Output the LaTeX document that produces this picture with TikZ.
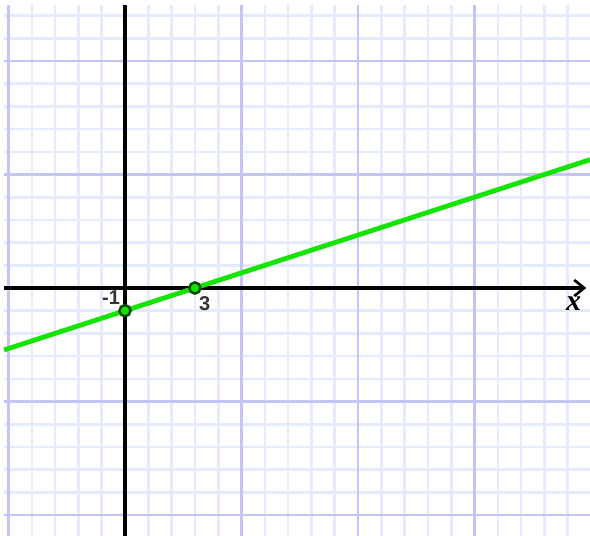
\documentclass[tikz,border=0pt]{standalone}
\usepackage{fontspec}
\setmainfont{Liberation Serif}
\setsansfont{Liberation Sans}
\usetikzlibrary{arrows.meta}
\definecolor{minorgrid}{RGB}{230,234,255}
\definecolor{majorgrid}{RGB}{196,196,245}
\definecolor{linegreen}{RGB}{20,228,0}
\definecolor{ptgreen}{RGB}{0,70,0}
\tikzset{
  minorline/.style={draw=minorgrid, line width=1.3pt},
  majorline/.style={draw=majorgrid, line width=1.4pt},
  axisline/.style={draw=black, line width=1.6pt},
  graphline/.style={draw=linegreen, line width=2.4pt},
  ptnode/.style={circle, draw=ptgreen, fill=linegreen, line width=1.2pt, inner sep=0pt, minimum size=5.6pt},
  numlabel/.style={font=\sffamily\bfseries\fontsize{10}{11}\selectfont, text=black!80, inner sep=0pt},
  varlabel/.style={font=\bfseries\itshape\fontsize{15}{16}\selectfont, inner sep=0pt}
}
\begin{document}
\begin{tikzpicture}[x=11.65pt, y=11.35pt]
\useasboundingbox (-5.365,-10.925) rectangle (19.957,12.687);
\fill[white] (-5.365,-10.925) rectangle (19.957,12.687);
% minor grid
\foreach \i in {-4,-3,-2,-1,1,2,3,4,6,7,8,9,11,12,13,14,16,17,18,19}
  \draw[minorline] (\i,-10.925) -- (\i,12.46);
\foreach \j in {-9,-8,-7,-6,-4,-3,-2,-1,1,2,3,4,6,7,8,9,11,12}
  \draw[minorline] (-5.19,\j) -- (19.957,\j);
% major grid
\foreach \i in {-5,5,10,15}
  \draw[majorline] (\i,-10.925) -- (\i,12.46);
\foreach \j in {-10,-5,5,10}
  \draw[majorline] (-5.19,\j) -- (19.957,\j);
% axes
\coordinate (xl) at (-5.19,0);
\coordinate (xr) at (19.8,0);
\coordinate (yt) at (0,12.46);
\coordinate (yb) at (0,-10.925);
\draw[axisline, -{Straight Barb[length=5pt,width=8pt,line width=1.3pt]}] (xl) -- (xr);
\draw[axisline] (yb) -- (yt);
% graph line
\coordinate (gl) at (-5.19,-2.73);
\coordinate (gr) at (19.957,5.652);
\draw[graphline] (gl) -- (gr);
% points
\node[ptnode] (A) at (3,0) {};
\node[ptnode] (B) at (0,-1) {};
% labels
\node[numlabel] (lm1) at (-0.6,-0.42) {-1};
\node[numlabel] (l3) at (3.42,-0.68) {3};
\node[varlabel] (lx) at (19.25,-0.7) {x};
\end{tikzpicture}
\end{document}
